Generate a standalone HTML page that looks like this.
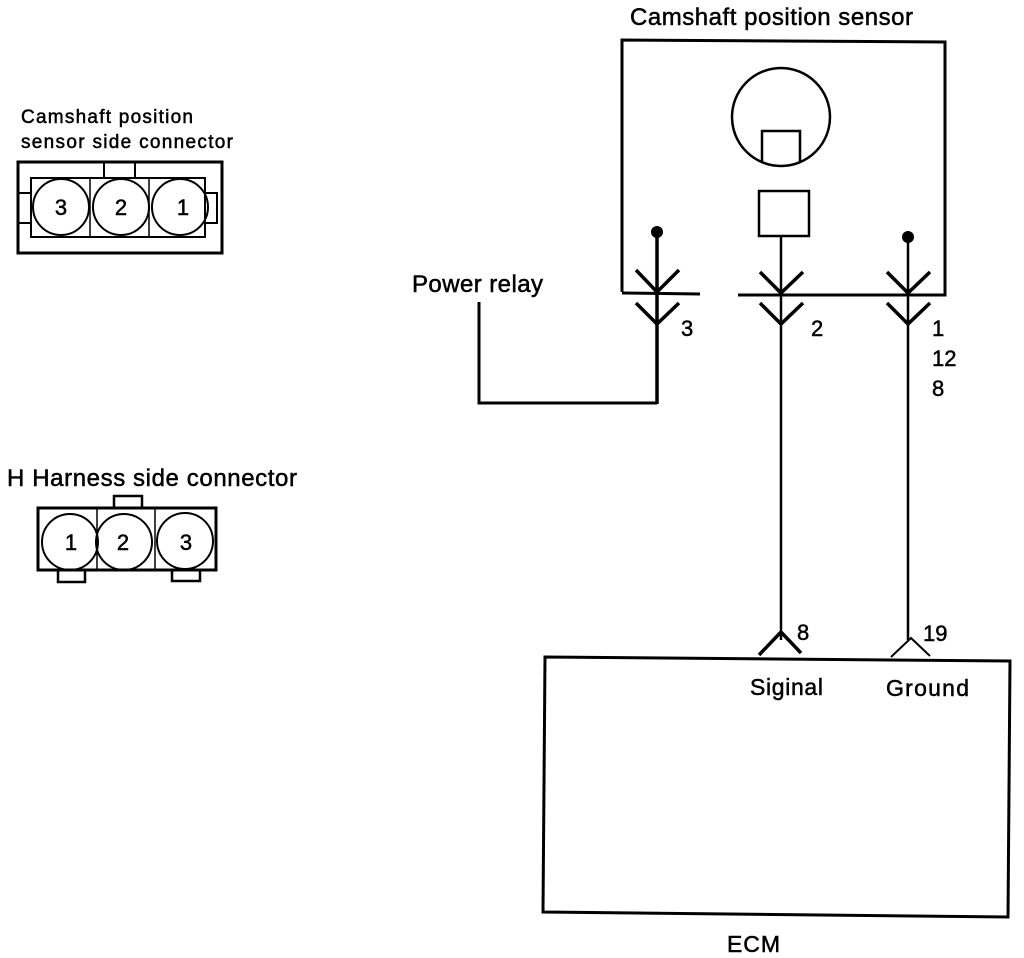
<!DOCTYPE html>
<html><head><style>body{margin:0;background:#fff}svg{display:block}text{font-family:"Liberation Sans",Arial,sans-serif;fill:#000;stroke:#000;stroke-width:0.5}</style></head><body>
<svg width="1024" height="958" viewBox="0 0 1024 958" xmlns="http://www.w3.org/2000/svg">
<g fill="none" stroke="#000" stroke-width="3">
<rect x="18" y="162" width="204" height="91"/>
<rect x="31" y="178" width="174" height="59" stroke-width="2"/>
<line x1="90" y1="178" x2="90" y2="237" stroke-width="1.5"/>
<line x1="149" y1="178" x2="149" y2="237" stroke-width="1.5"/>
<rect x="104" y="162" width="31" height="16" stroke-width="2"/>
<line x1="18" y1="193" x2="31" y2="193" stroke-width="2"/>
<line x1="18" y1="223" x2="31" y2="223" stroke-width="2"/>
<rect x="205" y="193" width="12" height="30" stroke-width="2"/>
<circle cx="61" cy="207" r="28" stroke-width="2"/>
<circle cx="121" cy="207" r="28" stroke-width="2"/>
<circle cx="180" cy="207" r="28" stroke-width="2"/>
<rect x="38" y="508" width="178" height="62"/>
<line x1="97" y1="508" x2="97" y2="570" stroke-width="1.5"/>
<line x1="155" y1="508" x2="155" y2="570" stroke-width="1.5"/>
<rect x="114" y="496" width="28" height="12" stroke-width="2.5"/>
<rect x="58" y="570" width="27" height="12" stroke-width="2.5"/>
<rect x="172" y="570" width="28" height="11" stroke-width="2.5"/>
<circle cx="70" cy="542" r="28" stroke-width="2"/>
<circle cx="124" cy="542" r="28" stroke-width="2"/>
<circle cx="185" cy="541" r="28" stroke-width="2"/>
<polyline points="622,292 622,40 945,42 945,295 738,295"/>
<line x1="622" y1="293" x2="700" y2="294"/>
<circle cx="781" cy="117" r="49" stroke-width="2.5"/>
<polyline points="762,162 762,131 800,131 800,162" stroke-width="2.5"/>
<rect x="759" y="191" width="50" height="45" stroke-width="2.5"/>
<line x1="657" y1="232" x2="657" y2="404" stroke-width="3.5"/>
<line x1="781" y1="236" x2="781" y2="640" stroke-width="2.5"/>
<line x1="908" y1="237" x2="908" y2="640" stroke-width="2.5"/>
<polyline points="479,302 479,403 657,403"/>
<g stroke-width="3.5">
<polyline points="636,270 657,292 679,270"/>
<polyline points="636,303 657,324 679,303"/>
<polyline points="760,272 781,293 803,272"/>
<polyline points="760,303 781,324 803,303"/>
<polyline points="887,272 908,293 930,272"/>
<polyline points="887,303 908,324 930,303"/>
</g>
<polyline points="759,655 781,632 801,653" stroke-width="3.5"/>
<polyline points="891,657 911,638 930,656" stroke-width="2"/>
<polygon points="545,657 1010,661 1008,917 543,912"/>
</g>
<g fill="#000">
<circle cx="657" cy="232" r="6"/>
<circle cx="908" cy="237" r="6"/>
</g>
<text x="630" y="25" font-size="24" textLength="283">Camshaft position sensor</text>
<text x="21" y="123" font-size="19" textLength="172">Camshaft position</text>
<text x="21" y="148" font-size="19" textLength="212">sensor side connector</text>
<text x="7" y="486" font-size="24" textLength="290">H Harness side connector</text>
<text x="412" y="292" font-size="24" textLength="131">Power relay</text>
<g font-size="22" text-anchor="middle">
<text x="61" y="215">3</text><text x="121" y="215">2</text><text x="183" y="215">1</text>
<text x="71" y="550">1</text><text x="123" y="550">2</text><text x="186" y="550">3</text>
</g>
<g font-size="22">
<text x="681" y="336">3</text>
<text x="811" y="336">2</text>
<text x="932" y="336">1</text>
<text x="932" y="366">12</text>
<text x="932" y="396">8</text>
<text x="797" y="640">8</text>
<text x="923" y="641">19</text>
<text x="750" y="695" font-size="23" textLength="73">Siginal</text>
<text x="886" y="696" font-size="23" textLength="83">Ground</text>
<text x="727" y="952" font-size="23" textLength="53">ECM</text>
</g>
</svg>
</body></html>
